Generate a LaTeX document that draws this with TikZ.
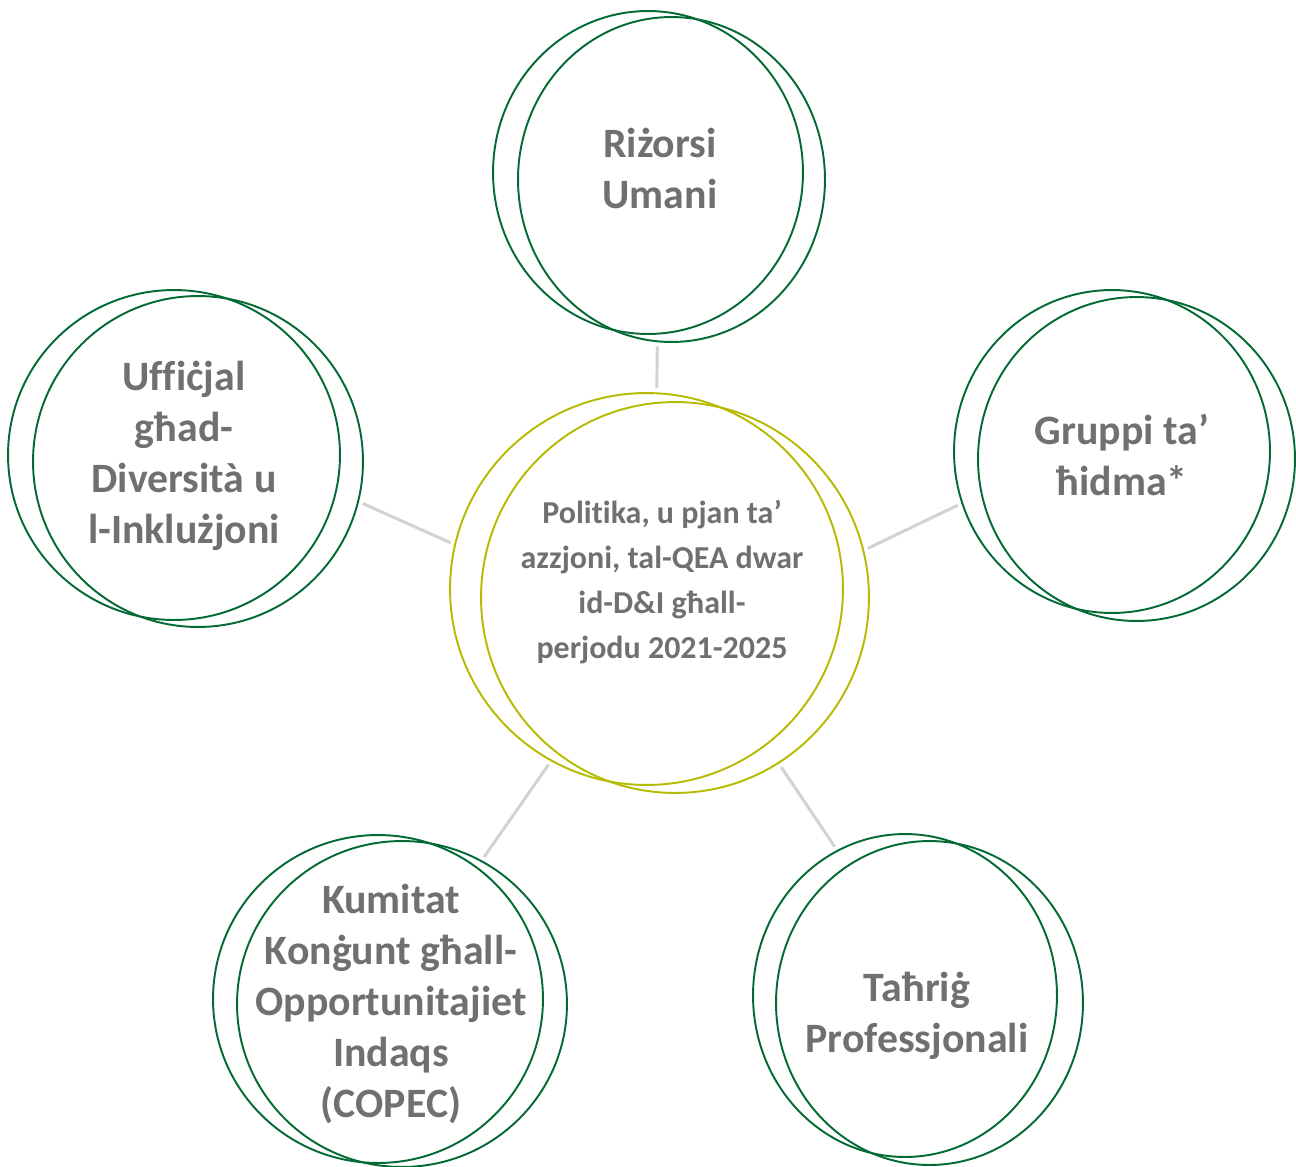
\documentclass[tikz,border=0pt]{standalone}
\usepackage{fontspec}
\setmainfont{Carlito}[Ligatures=NoCommon]
\usetikzlibrary{shapes.geometric}
\definecolor{ringgreen}{RGB}{4,106,52}
\definecolor{hubolive}{RGB}{182,186,0}
\definecolor{labelgrey}{RGB}{112,112,112}
\definecolor{linkgrey}{RGB}{210,210,210}

\begin{document}
\begin{tikzpicture}[x=0.02cm, y=-0.02cm]
  \useasboundingbox (0,0) rectangle (1296,1167);

  \begin{scope}[every node/.style={ellipse, draw=ringgreen, line width=1.1pt, inner sep=0pt, outer sep=0pt}]
    \node [minimum width=6.2cm, minimum height=6.46cm] (hr1) at (648,172.5) {};
    \node [minimum width=6.14cm, minimum height=6.5cm] (hr2) at (671.5,179.5) {};
    \node [minimum width=6.32cm, minimum height=6.46cm] (wg1) at (1112,451.5) {};
    \node [minimum width=6.34cm, minimum height=6.48cm] (wg2) at (1136.5,459) {};
    \node [minimum width=6.64cm, minimum height=6.6cm] (do1) at (174,455) {};
    \node [minimum width=6.6cm, minimum height=6.62cm] (do2) at (198,461.5) {};
    \node [minimum width=6.6cm, minimum height=6.56cm] (cp1) at (378,999) {};
    \node [minimum width=6.6cm, minimum height=6.52cm] (cp2) at (402,1004) {};
    \node [minimum width=6.08cm, minimum height=6.46cm] (pe1) at (905,995.5) {};
    \node [minimum width=6.14cm, minimum height=6.48cm] (pe2) at (929.5,1003) {};
    \node [draw=hubolive, minimum width=7.86cm, minimum height=7.84cm] (hub1) at (646.5,589) {};
    \node [draw=hubolive, minimum width=7.76cm, minimum height=7.82cm] (hub2) at (675,597.5) {};
  \end{scope}

  \begin{scope}[every node/.style={align=center, text=labelgrey, font=\fontsize{23.8}{29}\selectfont\bfseries}]
    \node (hrtext) at (660,168) {Riżorsi\\Umani};
    \node (wgtext) at (1122,455) {Gruppi ta’\\ħidma*};
    \node (dotext) at (184,456) {Uffiċjal\\għad-\\Diversità u\\l-Inklużjoni};
    \node (cptext) at (391,1004) {Kumitat\\Konġunt għall-\\Opportunitajiet\\Indaqs\\(COPEC)};
    \node (petext) at (917,1016) {Taħriġ\\Professjonali};
    \node [font=\fontsize{18.2}{25.7}\selectfont\bfseries] (hubtext) at (662,582)
      {Politika, u pjan ta’\\azzjoni, tal-QEA dwar\\id-D\&I għall-\\perjodu 2021-2025};
  \end{scope}

  \begin{scope}[linkgrey, line width=1.7pt, shorten <=0.1cm, shorten >=0.1cm]
    \draw (hr2.-95) to [shorten >=0.2cm] (hub1.87);
    \draw (do2.-14) to (hub1.167);
    \draw (wg1.-161) to (hub2.14);
    \draw (hub1.-119) to [shorten <=0.26cm, shorten >=0.3cm] (cp2.61);
    \draw (hub2.-58) to (pe1.115);
  \end{scope}
\end{tikzpicture}
\end{document}
